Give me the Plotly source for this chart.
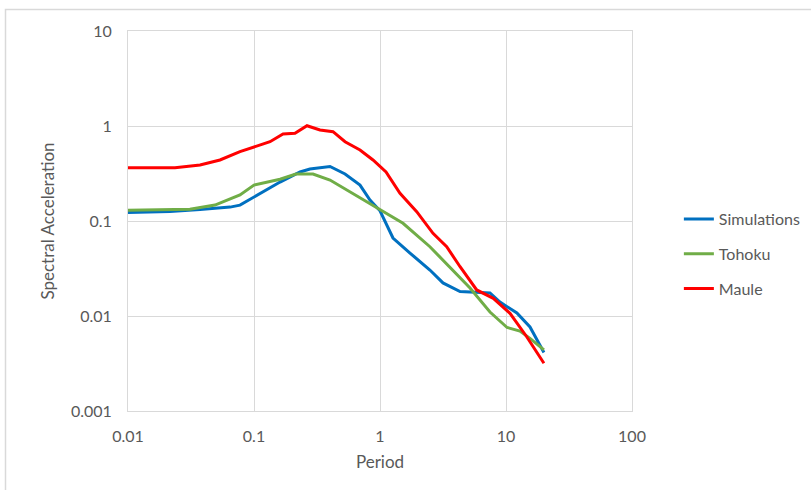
import plotly.graph_objects as go

# Simulations
sim_T = [0.01, 0.0215, 0.0373, 0.0646, 0.0774, 0.1, 0.161, 0.232, 0.278, 0.401, 0.528, 0.694, 0.833, 1.0,
         1.268, 1.73, 2.49, 3.16, 4.32, 7.46, 8.96, 10.2, 12.2, 15.5, 20.0]
sim_Sa = [0.123, 0.126, 0.132, 0.140, 0.147, 0.179, 0.257, 0.328, 0.353, 0.375, 0.3125, 0.239, 0.166, 0.128,
          0.0662, 0.046, 0.0305, 0.0223, 0.0181, 0.01746, 0.01403, 0.01253, 0.01075, 0.00766, 0.00413]

# Tohoku
toh_T = [0.01, 0.031, 0.049, 0.0774, 0.1, 0.161, 0.215, 0.294, 0.401, 0.578, 1.0, 1.523, 2.49, 3.59,
         5.18, 7.46, 10.2, 12.9, 15.5, 20.0]
toh_Sa = [0.13, 0.133, 0.147, 0.188, 0.239, 0.275, 0.3125, 0.3125, 0.27, 0.203, 0.134, 0.0946, 0.0536, 0.0324,
          0.0197, 0.011, 0.00757, 0.00695, 0.00582, 0.00439]

# Maule
mau_T = [0.01, 0.0236, 0.0373, 0.0537, 0.0774, 0.1, 0.134, 0.17, 0.2115, 0.2634, 0.334, 0.4237, 0.528, 0.694,
         0.88, 1.116, 1.441, 1.956, 2.634, 3.383, 4.32, 5.855, 7.93, 10.76, 14.6, 20.0]
mau_Sa = [0.364, 0.364, 0.389, 0.439, 0.537, 0.605, 0.683, 0.824, 0.838, 1.007, 0.908, 0.871, 0.683, 0.559,
          0.439, 0.328, 0.196, 0.1253, 0.0742, 0.0536, 0.033, 0.0188, 0.01536, 0.01067, 0.00605, 0.00318]

x_ticks = [0.01, 0.1, 1, 10, 100]
x_tick_labels = ["0.01", "0.1", "1", "10", "100"]
y_ticks = [0.001, 0.01, 0.1, 1, 10]
y_tick_labels = ["0.001", "0.01", "0.1", "1", "10"]

FONT = "Lato, Carlito, Calibri, sans-serif"
GRID = "#d9d9d9"
TXT = "#595959"

fig = go.Figure()
for name, xs, ys, col in [("Simulations", sim_T, sim_Sa, "#0070C0"),
                          ("Tohoku", toh_T, toh_Sa, "#70AD47"),
                          ("Maule", mau_T, mau_Sa, "#FF0000")]:
    fig.add_trace(go.Scatter(x=xs, y=ys, mode="lines", name=name, legendgroup=name,
                             line=dict(color=col, width=3)))

fig.update_layout(
    width=811, height=490,
    margin=dict(l=128, r=179, t=31, b=79, autoexpand=False),
    paper_bgcolor="white", plot_bgcolor="white",
    font=dict(family=FONT, color=TXT, size=16),
    showlegend=True,
    legend=dict(x=1.093, y=0.413, xanchor="left", yanchor="middle",
                font=dict(size=16, color=TXT), tracegroupgap=11, bgcolor="rgba(0,0,0,0)"),
    xaxis=dict(type="log", range=[-2, 2], tickvals=x_ticks, ticktext=x_tick_labels,
               showgrid=True, gridcolor=GRID, gridwidth=1, zeroline=False,
               showline=True, linecolor=GRID, mirror=True, ticks="", ticklabelstandoff=11,
               title=dict(text="Period", font=dict(size=17, color=TXT), standoff=11),
               tickfont=dict(size=16, color=TXT)),
    yaxis=dict(type="log", range=[-3, 1], tickvals=y_ticks, ticktext=y_tick_labels,
               showgrid=True, gridcolor=GRID, gridwidth=1, zeroline=False,
               showline=True, linecolor=GRID, mirror=True, ticks="", ticklabelstandoff=12,
               title=dict(text="Spectral Acceleration", font=dict(size=17, color=TXT), standoff=11),
               tickfont=dict(size=16, color=TXT)),
    shapes=[dict(type="rect", xref="paper", yref="paper",
                 x0=(5.5 - 128) / 504, x1=(830 - 128) / 504,
                 y0=(411 - 520) / 380, y1=(411 - 9.5) / 380,
                 line=dict(color=GRID, width=1.5), fillcolor="rgba(0,0,0,0)", layer="below")],
)

fig.write_html("out.html", config={"displayModeBar": False},
               post_script="document.body.style.margin='0';")
